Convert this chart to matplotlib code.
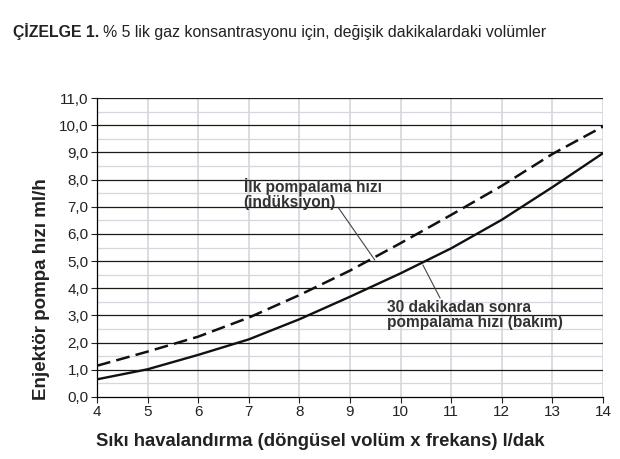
import matplotlib.pyplot as plt
import numpy as np

plt.rcParams['font.family'] = ['Liberation Sans', 'DejaVu Sans']

havalandirma = [4, 5, 6, 7, 8, 9, 10, 11, 12, 13, 14]
ilk_pompalama = [1.15, 1.67, 2.22, 2.92, 3.75, 4.65, 5.66, 6.70, 7.77, 8.94, 9.95]
bakim_pompalama = [0.65, 1.02, 1.55, 2.12, 2.86, 3.69, 4.55, 5.47, 6.52, 7.72, 8.97]
y_ticks = np.arange(0, 11.5, 1.0)

W, H = 620, 459
fig = plt.figure(figsize=(6.2, 4.59), dpi=100)
ax = fig.add_axes([97 / W, 1 - 397 / H, 506 / W, 299 / H])

# grid
for v in np.arange(0.5, 11, 1.0):
    ax.axhline(v, color='#d4d7de', lw=0.9, zorder=0)
for v in range(5, 15):
    ax.axvline(v, color='#d4d7de', lw=1.2, zorder=0)
for v in range(1, 12):
    ax.axhline(v, color='#1a1a1a', lw=0.9, zorder=1)

ax.plot(havalandirma, ilk_pompalama, color='#111111', lw=1.8, ls=(0, (5.5, 2.5)), zorder=3)
ax.plot(havalandirma, bakim_pompalama, color='#111111', lw=1.7, zorder=3)

ax.set_xlim(4, 14)
ax.set_ylim(0, 11)
ax.set_xticks(havalandirma)
ax.set_yticks(y_ticks)
ax.set_yticklabels([f'{v:.1f}'.replace('.', ',') for v in y_ticks])
ax.tick_params(labelsize=11, colors='#222222', length=4, width=0.8, pad=2)
for s in ['top', 'right']:
    ax.spines[s].set_visible(False)
ax.spines['left'].set_linewidth(0.9)
ax.spines['bottom'].set_linewidth(0.9)

fig.text(42 / W, 1 - 289 / H, 'Enjektör pompa hızı ml/h', fontsize=13.5, fontweight='bold',
         color='#222222', rotation=90, ha='center', va='center')
fig.text(320 / W, 1 - 442 / H, 'Sıkı havalandırma (döngüsel volüm x frekans) l/dak',
         fontsize=13.3, fontweight='bold', color='#222222', ha='center', va='center')

# annotations
ax.text(6.9, 8.05, 'İlk pompalama hızı\n(indüksiyon)', fontsize=11.2, fontweight='bold',
        color='#333333', va='top', ha='left', linespacing=1.0, zorder=4)
ax.annotate('', xy=(9.49, 5.04), xytext=(8.76, 6.99),
            arrowprops=dict(arrowstyle='-', color='#444444', lw=0.8, shrinkA=0, shrinkB=0))
ax.text(9.73, 3.56, '30 dakikadan sonra\npompalama hızı (bakım)', fontsize=11.2,
        fontweight='bold', color='#333333', va='top', ha='left', linespacing=0.96, zorder=4)
ax.annotate('', xy=(10.44, 4.86), xytext=(10.78, 3.64),
            arrowprops=dict(arrowstyle='-', color='#444444', lw=0.8, shrinkA=0, shrinkB=0))

# title
t1 = fig.text(13 / W, 1 - 37 / H, 'ÇİZELGE 1.', fontsize=11.4, fontweight='bold',
              color='#222222', va='baseline', ha='left')
r = fig.canvas.get_renderer()
bb = t1.get_window_extent(renderer=r)
fig.text(bb.x1 / fig.bbox.width + 0.006, 1 - 37 / H,
         '% 5 lik gaz konsantrasyonu için, değişik dakikalardaki volümler',
         fontsize=11.4, color='#222222', va='baseline', ha='left')

fig.savefig('out.png', dpi=100)
